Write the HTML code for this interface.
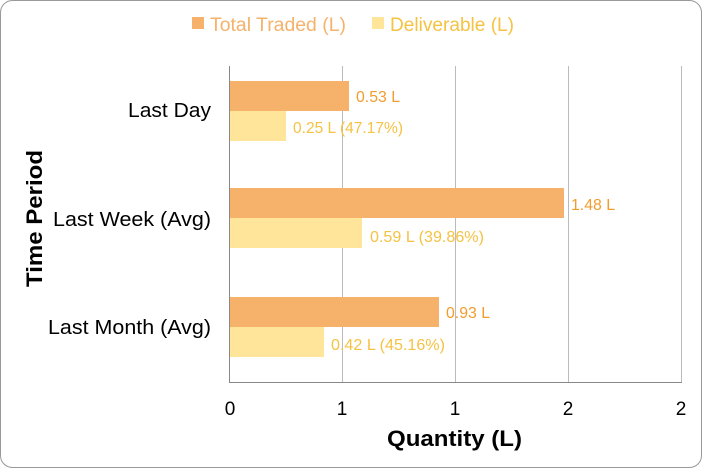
<!DOCTYPE html>
<html><head><meta charset="utf-8"><style>
html,body{margin:0;padding:0;background:#fff;}
svg{display:block;}
text{font-family:"Liberation Sans",sans-serif;}
</style></head><body>
<svg width="702" height="468" viewBox="0 0 702 468" xmlns="http://www.w3.org/2000/svg">
<rect x="0.5" y="0.5" width="701" height="467" rx="12" ry="12" fill="#fff" stroke="#999" stroke-width="1"/>
<!-- legend -->
<rect x="192" y="17" width="12" height="12" fill="#F6B26B"/>
<text x="210" y="31" font-size="19" fill="#F6B26B" textLength="136" lengthAdjust="spacingAndGlyphs">Total Traded (L)</text>
<rect x="372" y="17" width="12" height="12" fill="#FFE599"/>
<text x="390" y="31" font-size="19" fill="#F5C242" textLength="124" lengthAdjust="spacingAndGlyphs">Deliverable (L)</text>
<!-- grid -->
<g stroke="#bbb" stroke-width="1">
<line x1="342.5" y1="66" x2="342.5" y2="382"/>
<line x1="455.5" y1="66" x2="455.5" y2="382"/>
<line x1="568.5" y1="66" x2="568.5" y2="382"/>
<line x1="681.5" y1="66" x2="681.5" y2="382"/>
</g>
<!-- bars -->
<rect x="230" y="81" width="119" height="30" fill="#F6B26B"/>
<rect x="230" y="111" width="56" height="30" fill="#FFE599"/>
<rect x="230" y="188" width="334" height="30" fill="#F6B26B"/>
<rect x="230" y="218" width="132" height="30" fill="#FFE599"/>
<rect x="230" y="297" width="209" height="30" fill="#F6B26B"/>
<rect x="230" y="327" width="94" height="30" fill="#FFE599"/>
<!-- axes -->
<line x1="229.5" y1="66" x2="229.5" y2="382" stroke="#888"/>
<line x1="229" y1="382.5" x2="682" y2="382.5" stroke="#888"/>
<!-- data labels -->
<g font-size="16">
<text x="356" y="102" fill="#F39C2E" textLength="44" lengthAdjust="spacingAndGlyphs">0.53 L</text>
<text x="293" y="133" fill="#F5C242" textLength="110" lengthAdjust="spacingAndGlyphs">0.25 L (47.17%)</text>
<text x="571" y="210" fill="#F39C2E" textLength="44" lengthAdjust="spacingAndGlyphs">1.48 L</text>
<text x="370" y="242" fill="#F5C242" textLength="114" lengthAdjust="spacingAndGlyphs">0.59 L (39.86%)</text>
<text x="446" y="318" fill="#F39C2E" textLength="44" lengthAdjust="spacingAndGlyphs">0.93 L</text>
<text x="331" y="350" fill="#F5C242" textLength="114" lengthAdjust="spacingAndGlyphs">0.42 L (45.16%)</text>
</g>
<!-- category labels -->
<g font-size="20" fill="#000">
<text x="128" y="117" textLength="83" lengthAdjust="spacingAndGlyphs">Last Day</text>
<text x="53" y="226" textLength="158" lengthAdjust="spacingAndGlyphs">Last Week (Avg)</text>
<text x="48" y="334" textLength="163" lengthAdjust="spacingAndGlyphs">Last Month (Avg)</text>
</g>
<!-- tick labels -->
<g font-size="19" fill="#000" text-anchor="middle">
<text x="230" y="415">0</text>
<text x="342" y="415">1</text>
<text x="455" y="415">1</text>
<text x="568" y="415">2</text>
<text x="681" y="415">2</text>
</g>
<text x="387" y="446" font-size="22" font-weight="bold" fill="#000" textLength="135" lengthAdjust="spacingAndGlyphs">Quantity (L)</text>
<text transform="translate(42,287) rotate(-90)" font-size="22" font-weight="bold" fill="#000" textLength="137" lengthAdjust="spacingAndGlyphs">Time Period</text>
</svg>
</body></html>
